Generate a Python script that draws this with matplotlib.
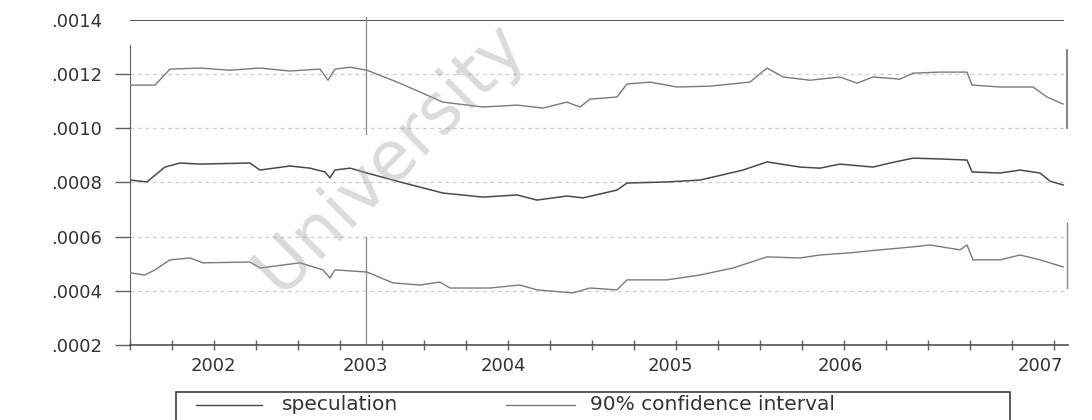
import numpy as np
import matplotlib
matplotlib.use("Agg")
import matplotlib.pyplot as plt
from matplotlib.patches import Rectangle
from matplotlib.lines import Line2D

# 일별 추정치를 읽은 주요 지점 (연도 소수 표기, 값)
upper_t = [2001.500, 2001.649, 2001.738, 2001.917, 2002.095, 2002.274, 2002.452, 2002.631,
           2002.679, 2002.720, 2002.810, 2002.911, 2003.107, 2003.363, 2003.601, 2003.804,
           2003.958, 2004.101, 2004.179, 2004.238, 2004.399, 2004.458, 2004.595, 2004.756,
           2004.952, 2005.190, 2005.292, 2005.387, 2005.548, 2005.726, 2005.827, 2005.923,
           2006.083, 2006.161, 2006.321, 2006.482, 2006.512, 2006.679, 2006.875, 2006.958,
           2007.054]
upper_v = [11.60, 11.60, 12.19, 12.23, 12.15, 12.23, 12.12, 12.19,
           11.78, 12.19, 12.26, 12.15, 11.67, 10.97, 10.79, 10.86,
           10.75, 10.97, 10.79, 11.08, 11.16, 11.64, 11.71, 11.53,
           11.56, 11.71, 12.23, 11.90, 11.78, 11.90, 11.67, 11.90,
           11.82, 12.04, 12.08, 12.08, 11.60, 11.53, 11.53, 11.16,
           10.90]

spec_t = [2001.500, 2001.601, 2001.708, 2001.798, 2001.917, 2002.214, 2002.274, 2002.452,
          2002.571, 2002.661, 2002.690, 2002.720, 2002.810, 2002.911, 2003.107, 2003.363,
          2003.601, 2003.804, 2003.923, 2004.101, 2004.196, 2004.399, 2004.458, 2004.696,
          2004.893, 2005.149, 2005.292, 2005.488, 2005.607, 2005.726, 2005.923, 2006.024,
          2006.161, 2006.321, 2006.482, 2006.512, 2006.679, 2006.798, 2006.917, 2006.976,
          2007.054]
spec_v = [8.09, 8.02, 8.57, 8.72, 8.68, 8.72, 8.46, 8.61,
          8.53, 8.39, 8.17, 8.46, 8.53, 8.35, 8.02, 7.61,
          7.46, 7.54, 7.35, 7.50, 7.43, 7.72, 7.98, 8.02,
          8.09, 8.46, 8.76, 8.57, 8.53, 8.68, 8.57, 8.72,
          8.90, 8.87, 8.83, 8.39, 8.35, 8.46, 8.35, 8.05,
          7.91]

lower_t = [2001.500, 2001.589, 2001.649, 2001.738, 2001.857, 2001.935, 2002.214, 2002.274,
           2002.512, 2002.649, 2002.690, 2002.720, 2002.911, 2003.065, 2003.226, 2003.345,
           2003.405, 2003.643, 2003.821, 2003.923, 2004.137, 2004.238, 2004.399, 2004.458,
           2004.696, 2004.893, 2005.089, 2005.292, 2005.488, 2005.607, 2005.786, 2005.964,
           2006.161, 2006.262, 2006.440, 2006.482, 2006.518, 2006.679, 2006.798, 2006.917,
           2007.054]
lower_v = [4.66, 4.58, 4.77, 5.14, 5.21, 5.03, 5.06, 4.84,
           5.03, 4.77, 4.47, 4.77, 4.69, 4.29, 4.21, 4.32,
           4.10, 4.10, 4.21, 4.03, 3.92, 4.10, 4.03, 4.40,
           4.40, 4.58, 4.84, 5.25, 5.21, 5.32, 5.40, 5.51,
           5.62, 5.69, 5.51, 5.69, 5.14, 5.14, 5.32, 5.14,
           4.88]

year_pos = [2001.994, 2002.899, 2003.720, 2004.714, 2005.726, 2006.917]
year_labels = ["2002", "2003", "2004", "2005", "2006", "2007"]
y_ticks = [0.0002, 0.0004, 0.0006, 0.0008, 0.0010, 0.0012, 0.0014]
y_labels = [".0002", ".0004", ".0006", ".0008", ".0010", ".0012", ".0014"]
break_date = 2002.905

scale = 1e-4
upper = np.array(upper_v) * scale
spec = np.array(spec_v) * scale
lower = np.array(lower_v) * scale

plt.rcParams['font.family'] = ['DejaVu Sans']

fig = plt.figure(figsize=(10.92, 4.2), dpi=100)
ax = fig.add_axes([0.119, 0.179, 0.859, 0.773])
ax.set_xlim(2001.5, 2007.083)
ax.set_ylim(0.0002, 0.0014)

# 점선 격자
for yv in y_ticks[1:-1]:
    ax.axhline(yv, color='#cfcfcf', lw=0.9, ls=(0, (3, 3)), zorder=1)

ax.plot(upper_t, upper, color='#7a7a7a', lw=1.0, zorder=3)
ax.plot(spec_t, spec, color='#4a4a4a', lw=1.1, zorder=3)
ax.plot(lower_t, lower, color='#7a7a7a', lw=1.0, zorder=3)

# 상단 기준선과 구조변화 시점
ax.axhline(0.0014, color='#505050', lw=1.4, zorder=2, xmax=0.995)
ax.plot([break_date, break_date], [0.00098, 0.00141], color='#8a8a8a', lw=0.9, clip_on=False)
ax.plot([break_date, break_date], [0.0002, 0.00060], color='#8a8a8a', lw=0.9)
ax.plot([2007.075, 2007.075], [0.00100, 0.00129], color='#707070', lw=1.2, clip_on=False)
ax.plot([2007.075, 2007.075], [0.00041, 0.00065], color='#8a8a8a', lw=1.0, clip_on=False)

for side in ['top', 'right']:
    ax.spines[side].set_visible(False)
ax.spines['left'].set_bounds(0.0002, 0.00131)
ax.spines['left'].set_color('#606060')
ax.spines['bottom'].set_color('#505050')
ax.spines['bottom'].set_linewidth(1.2)

ax.set_yticks(y_ticks)
ax.set_yticklabels(y_labels)
ax.tick_params(axis='y', direction='out', length=11, width=1.0, color='#606060',
               labelsize=13, labelcolor='#333333', pad=9)
# 맨 위 눈금은 선 없이 라벨만
ax.yaxis.get_major_ticks()[-1].tick1line.set_visible(False)

ax.set_xticks(year_pos)
ax.set_xticklabels(year_labels)
ax.set_xticks(np.arange(2001.5, 2007.05, 0.25), minor=True)
ax.tick_params(axis='x', which='major', length=0, labelsize=13, labelcolor='#333333', pad=9)
ax.tick_params(axis='x', which='minor', direction='inout', length=7, width=1.0, color='#606060')

# 범례 상자 (아래쪽이 잘린 형태)
fig.patches.append(Rectangle((0.161, -0.03), 0.764, 0.097, transform=fig.transFigure,
                             fill=False, edgecolor='#404040', lw=1.2))
fig.lines.append(Line2D([0.1795, 0.240], [0.036, 0.036], transform=fig.transFigure,
                        color='#4a4a4a', lw=1.0))
fig.text(0.258, 0.036, "speculation", fontsize=14.5, color='#333333', va='center')
fig.lines.append(Line2D([0.463, 0.527], [0.036, 0.036], transform=fig.transFigure,
                        color='#7a7a7a', lw=1.0))
fig.text(0.540, 0.036, "90% confidence interval", fontsize=14.5, color='#333333', va='center')

# 워터마크
fig.text(0.357, 0.625, "University", rotation=45, fontsize=50, color='#a0a0a0', alpha=0.38,
         ha='center', va='center', zorder=10)

fig.savefig("out.png", dpi=100, facecolor='white')
